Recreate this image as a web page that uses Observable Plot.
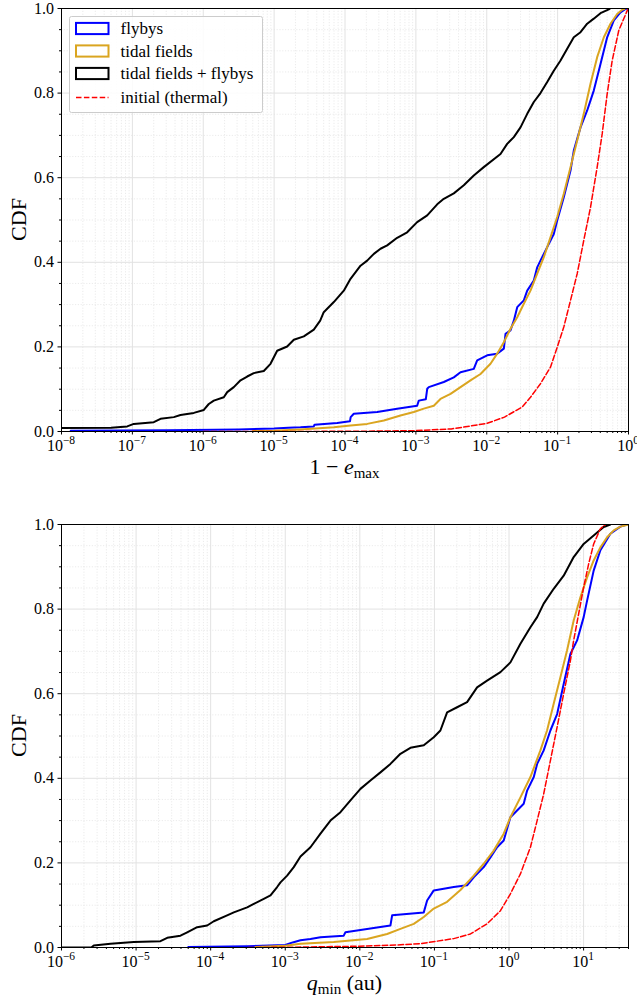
<!DOCTYPE html>
<html>
<head>
<meta charset="utf-8">
<script src="https://cdn.jsdelivr.net/npm/d3@7"></script>
<script src="https://cdn.jsdelivr.net/npm/@observablehq/plot@0.6"></script>
<style>
  body { margin: 0; background: #fff; }
  #chart svg { display: block; }
</style>
</head>
<body>
<div id="chart"></div>
<script>
// ---------------- DATA ----------------
// Each pair: [log10(x), CDF]
const seriesNames = ["flybys", "tidal fields", "tidal fields + flybys", "initial (thermal)"];
const seriesColors = ["#0000ff", "#daa520", "#000000", "#ff0000"];

// Top panel: x = 1 - e_max
const topFlybys = [
  [-7.87, 0.002], [-6.5, 0.003], [-5.5, 0.005], [-5.0, 0.007], [-4.8, 0.009], [-4.628, 0.010],
  [-4.44, 0.012], [-4.43, 0.016], [-4.11, 0.020], [-3.93, 0.024], [-3.92, 0.034], [-3.876, 0.042],
  [-3.546, 0.046], [-3.264, 0.054], [-2.982, 0.061], [-2.959, 0.073], [-2.86, 0.076], [-2.840, 0.101],
  [-2.818, 0.105], [-2.606, 0.117], [-2.465, 0.128], [-2.370, 0.140], [-2.183, 0.148], [-2.135, 0.168],
  [-1.994, 0.180], [-1.853, 0.184], [-1.759, 0.196], [-1.735, 0.231], [-1.665, 0.239], [-1.618, 0.262],
  [-1.570, 0.294], [-1.477, 0.310], [-1.429, 0.333], [-1.336, 0.357], [-1.288, 0.388], [-1.242, 0.404],
  [-1.147, 0.436], [-1.054, 0.467], [-1.006, 0.499], [-0.913, 0.554], [-0.818, 0.617], [-0.772, 0.664],
  [-0.677, 0.719], [-0.583, 0.759], [-0.490, 0.806], [-0.395, 0.869], [-0.301, 0.932], [-0.207, 0.972],
  [-0.113, 0.991], [-0.042, 0.999], [0, 1.0]
];
const topTidal = [
  [-5.3, 0.001], [-5.0, 0.002], [-4.628, 0.005], [-4.158, 0.010], [-3.922, 0.014], [-3.687, 0.018],
  [-3.452, 0.026], [-3.217, 0.038], [-3.029, 0.046], [-2.888, 0.054], [-2.747, 0.061], [-2.653, 0.077],
  [-2.511, 0.089], [-2.370, 0.105], [-2.229, 0.121], [-2.088, 0.136], [-1.947, 0.160], [-1.853, 0.184],
  [-1.759, 0.211], [-1.665, 0.243], [-1.570, 0.270], [-1.477, 0.302], [-1.383, 0.333], [-1.288, 0.373],
  [-1.195, 0.412], [-1.101, 0.459], [-1.006, 0.507], [-0.913, 0.562], [-0.818, 0.625], [-0.724, 0.688],
  [-0.631, 0.751], [-0.536, 0.822], [-0.442, 0.885], [-0.348, 0.932], [-0.254, 0.964], [-0.160, 0.987],
  [-0.089, 0.997], [-0.05, 1.0]
];
const topBoth = [
  [-8.0, 0.008], [-7.3, 0.009], [-7.073, 0.012], [-6.98, 0.018], [-6.698, 0.022], [-6.603, 0.030],
  [-6.415, 0.034], [-6.321, 0.039], [-6.133, 0.044], [-5.992, 0.051], [-5.922, 0.065], [-5.851, 0.073],
  [-5.710, 0.081], [-5.662, 0.093], [-5.569, 0.105], [-5.474, 0.121], [-5.380, 0.130], [-5.287, 0.138],
  [-5.146, 0.143], [-5.051, 0.160], [-4.957, 0.191], [-4.816, 0.201], [-4.722, 0.217], [-4.581, 0.225],
  [-4.44, 0.241], [-4.35, 0.262], [-4.30, 0.282], [-4.158, 0.306], [-4.017, 0.333], [-3.922, 0.361],
  [-3.781, 0.392], [-3.687, 0.404], [-3.593, 0.420], [-3.499, 0.432], [-3.405, 0.440], [-3.264, 0.458],
  [-3.123, 0.471], [-2.982, 0.495], [-2.840, 0.511], [-2.699, 0.537], [-2.606, 0.550], [-2.465, 0.563],
  [-2.324, 0.582], [-2.183, 0.605], [-2.042, 0.625], [-1.806, 0.656], [-1.712, 0.680], [-1.618, 0.696],
  [-1.524, 0.719], [-1.429, 0.751], [-1.336, 0.779], [-1.242, 0.800], [-1.147, 0.826], [-1.054, 0.853],
  [-0.959, 0.877], [-0.865, 0.905], [-0.772, 0.932], [-0.677, 0.944], [-0.583, 0.964], [-0.490, 0.976],
  [-0.395, 0.989], [-0.278, 0.998], [-0.26, 1.0]
];
const topInitial = [
  [-6, 0], [-5, 0.0001], [-4, 0.0004], [-3.5, 0.001], [-3, 0.002], [-2.5, 0.006], [-2, 0.019],
  [-1.75, 0.034], [-1.5, 0.058], [-1.383, 0.081], [-1.242, 0.113], [-1.101, 0.152], [-1.006, 0.199],
  [-0.913, 0.247], [-0.818, 0.310], [-0.724, 0.373], [-0.631, 0.452], [-0.536, 0.530], [-0.442, 0.625],
  [-0.371, 0.704], [-0.301, 0.798], [-0.230, 0.877], [-0.137, 0.948], [-0.018, 0.995], [0, 1.0]
];

// Bottom panel: x = q_min (au)
const botFlybys = [
  [-4.3, 0.001], [-3.5, 0.003], [-3.0, 0.006], [-2.9, 0.012], [-2.796, 0.017], [-2.662, 0.020],
  [-2.528, 0.024], [-2.216, 0.028], [-2.193, 0.036], [-1.903, 0.044], [-1.590, 0.052], [-1.567, 0.076],
  [-1.143, 0.083], [-1.098, 0.111], [-1.009, 0.135], [-0.741, 0.143], [-0.562, 0.147], [-0.473, 0.166],
  [-0.339, 0.190], [-0.249, 0.213], [-0.160, 0.237], [-0.071, 0.253], [0.019, 0.308], [0.108, 0.324],
  [0.197, 0.340], [0.243, 0.371], [0.332, 0.403], [0.377, 0.434], [0.465, 0.466], [0.555, 0.513],
  [0.645, 0.552], [0.733, 0.623], [0.823, 0.694], [0.913, 0.726], [1.001, 0.781], [1.047, 0.820],
  [1.135, 0.891], [1.225, 0.939], [1.359, 0.978], [1.493, 0.995], [1.583, 1.0]
];
const botTidal = [
  [-3.4, 0.001], [-3.0, 0.004], [-2.796, 0.009], [-2.350, 0.013], [-1.903, 0.020], [-1.634, 0.032],
  [-1.456, 0.044], [-1.277, 0.056], [-1.143, 0.072], [-1.009, 0.092], [-0.830, 0.108], [-0.651, 0.136],
  [-0.473, 0.170], [-0.339, 0.198], [-0.205, 0.229], [-0.071, 0.269], [0.019, 0.308], [0.153, 0.355],
  [0.287, 0.403], [0.421, 0.466], [0.510, 0.513], [0.599, 0.576], [0.689, 0.639], [0.778, 0.702],
  [0.867, 0.773], [0.957, 0.828], [1.047, 0.875], [1.135, 0.915], [1.225, 0.946], [1.315, 0.970],
  [1.404, 0.986], [1.493, 0.995], [1.605, 1.0]
];
const botBoth = [
  [-6, 0], [-5.6, 0], [-5.567, 0.005], [-5.343, 0.009], [-5.030, 0.013], [-4.673, 0.015], [-4.583, 0.023],
  [-4.405, 0.028], [-4.315, 0.036], [-4.181, 0.048], [-4.047, 0.052], [-3.958, 0.062], [-3.779, 0.076],
  [-3.690, 0.083], [-3.511, 0.095], [-3.422, 0.103], [-3.288, 0.115], [-3.198, 0.123], [-3.109, 0.143],
  [-3.064, 0.154], [-2.975, 0.170], [-2.886, 0.190], [-2.796, 0.215], [-2.662, 0.237], [-2.528, 0.269],
  [-2.394, 0.300], [-2.260, 0.320], [-2.126, 0.348], [-1.992, 0.375], [-1.858, 0.395], [-1.724, 0.414],
  [-1.590, 0.434], [-1.456, 0.458], [-1.322, 0.472], [-1.143, 0.478], [-1.009, 0.497], [-0.920, 0.513],
  [-0.830, 0.556], [-0.696, 0.568], [-0.562, 0.580], [-0.428, 0.615], [-0.294, 0.631], [-0.115, 0.651],
  [0.019, 0.674], [0.153, 0.718], [0.287, 0.757], [0.377, 0.781], [0.465, 0.813], [0.599, 0.848],
  [0.733, 0.879], [0.867, 0.923], [1.001, 0.954], [1.135, 0.974], [1.269, 0.994], [1.359, 1.0]
];
const botInitial = [
  [-3.5, 0], [-3, 0.0005], [-2, 0.003], [-1.5, 0.006], [-1.188, 0.009], [-0.741, 0.021], [-0.517, 0.032],
  [-0.294, 0.056], [-0.115, 0.087], [0.019, 0.127], [0.153, 0.174], [0.287, 0.237], [0.377, 0.300],
  [0.465, 0.363], [0.555, 0.442], [0.645, 0.521], [0.733, 0.600], [0.823, 0.678], [0.867, 0.726],
  [0.934, 0.789], [1.001, 0.852], [1.068, 0.907], [1.135, 0.954], [1.225, 0.990], [1.292, 1.0]
];

// Axes
const topXDomain = [1e-8, 1];
const topTickValues = [1e-8, 1e-7, 1e-6, 1e-5, 1e-4, 1e-3, 1e-2, 1e-1, 1];
const topTickExps = ["\u22128", "\u22127", "\u22126", "\u22125", "\u22124", "\u22123", "\u22122", "\u22121", "0"];
const botXDomain = [1e-6, 40];
const botTickValues = [1e-6, 1e-5, 1e-4, 1e-3, 1e-2, 1e-1, 1, 10];
const botTickExps = ["\u22126", "\u22125", "\u22124", "\u22123", "\u22122", "\u22121", "0", "1"];
const yTickValues = [0, 0.2, 0.4, 0.6, 0.8, 1.0];
const yMinorValues = [0.05, 0.1, 0.15, 0.25, 0.3, 0.35, 0.45, 0.5, 0.55, 0.65, 0.7, 0.75, 0.85, 0.9, 0.95];

// ---------------- RENDERING ----------------
const FONT = "'Liberation Serif', 'Times New Roman', serif";

function minorLogTicks(domain) {
  const out = [];
  const k0 = Math.floor(Math.log10(domain[0]));
  const k1 = Math.ceil(Math.log10(domain[1]));
  for (let k = k0; k <= k1; k++)
    for (let m = 2; m <= 9; m++) {
      const v = m * Math.pow(10, k);
      if (v > domain[0] && v <= domain[1] * 1.0001) out.push(v);
    }
  return out;
}

const toRows = arr => arr.map(([lx, c]) => ({x: Math.pow(10, lx), cdf: c}));

function makePanel(cfg) {
  const minorX = minorLogTicks(cfg.domain);
  const [flyb, tidal, both, init] = cfg.series;
  const svg = Plot.plot({
    width: 637,
    height: cfg.height,
    marginLeft: 61,
    marginRight: 9,
    marginTop: cfg.marginTop,
    marginBottom: cfg.marginBottom,
    style: {background: "white", fontFamily: FONT, fontSize: "16px", color: "black", overflow: "visible"},
    x: {type: "log", domain: cfg.domain, label: null},
    y: {domain: [0, 1], label: null},
    marks: [
      Plot.ruleX(minorX, {stroke: "#e6e6e6", strokeWidth: 0.8, strokeDasharray: "1.2,1.6"}),
      Plot.ruleY(yMinorValues, {stroke: "#e6e6e6", strokeWidth: 0.8, strokeDasharray: "1.2,1.6"}),
      Plot.ruleX(cfg.tickValues, {stroke: "#e2e2e2", strokeWidth: 1}),
      Plot.ruleY(yTickValues, {stroke: "#e2e2e2", strokeWidth: 1}),
      Plot.line(toRows(flyb), {x: "x", y: "cdf", stroke: seriesColors[0], strokeWidth: 2, clip: true}),
      Plot.line(toRows(tidal), {x: "x", y: "cdf", stroke: seriesColors[1], strokeWidth: 2, clip: true}),
      Plot.line(toRows(both), {x: "x", y: "cdf", stroke: seriesColors[2], strokeWidth: 2, clip: true}),
      Plot.line(toRows(init), {x: "x", y: "cdf", stroke: seriesColors[3], strokeWidth: 1.5, strokeDasharray: "5.5,2.4", clip: true}),
      Plot.frame({stroke: "black", strokeWidth: 1}),
      Plot.axisY(yTickValues, {tickSize: 3.5, tickPadding: 4, tickFormat: d => d.toFixed(1), fontSize: 16}),
      Plot.axisY(yMinorValues, {tickSize: 2, tickFormat: () => ""}),
      Plot.axisX(cfg.tickValues, {tickSize: 3.5, tickFormat: () => ""}),
      Plot.axisX(minorX, {tickSize: 2, tickFormat: () => ""})
    ]
  });

  const sx = svg.scale("x");
  const root = d3.select(svg);

  // x tick labels 10^k with real superscripts
  const gl = root.append("g")
    .attr("font-family", FONT).attr("font-size", 16).attr("fill", "black").attr("text-anchor", "middle");
  cfg.tickValues.forEach((v, i) => {
    const t = gl.append("text").attr("x", sx.apply(v)).attr("y", cfg.tickBaseline);
    t.append("tspan").text("10");
    t.append("tspan").attr("dy", -7).attr("font-size", 11.5).text(cfg.tickExps[i]);
  });

  // y axis label
  root.append("text")
    .attr("transform", `translate(18,${cfg.cdfCenterY}) rotate(-90)`)
    .attr("text-anchor", "middle").attr("dominant-baseline", "central")
    .attr("font-family", FONT).attr("font-size", 22).attr("fill", "black")
    .text("CDF");

  // x axis label
  cfg.xLabel(root.append("text")
    .attr("x", 344.5).attr("y", cfg.labelBaseline)
    .attr("text-anchor", "middle").attr("font-family", FONT).attr("font-size", 22).attr("fill", "black"));

  return svg;
}

const topSvg = makePanel({
  series: [topFlybys, topTidal, topBoth, topInitial],
  domain: topXDomain, tickValues: topTickValues, tickExps: topTickExps,
  height: 500, marginTop: 8, marginBottom: 69,
  tickBaseline: 451, labelBaseline: 474, cdfCenterY: 219.5,
  xLabel: t => {
    t.append("tspan").text("1 \u2212 ");
    t.append("tspan").attr("font-style", "italic").text("e");
    t.append("tspan").attr("font-size", 15).attr("dy", 4).text("max");
  }
});

const bottomSvg = makePanel({
  series: [botFlybys, botTidal, botBoth, botInitial],
  domain: botXDomain, tickValues: botTickValues, tickExps: botTickExps,
  height: 500, marginTop: 24, marginBottom: 53,
  tickBaseline: 467, labelBaseline: 490, cdfCenterY: 235.5,
  xLabel: t => {
    t.append("tspan").attr("font-style", "italic").text("q");
    t.append("tspan").attr("font-size", 15).attr("dy", 4).text("min");
    t.append("tspan").attr("dy", -4).text(" (au)");
  }
});

// Legend inside the top panel
{
  const lg = d3.select(topSvg).append("g")
    .attr("font-family", FONT).attr("font-size", 17).attr("text-anchor", "start");
  lg.append("rect").attr("x", 69.5).attr("y", 16.5).attr("width", 193).attr("height", 96)
    .attr("rx", 2).attr("fill", "white").attr("fill-opacity", 0.85).attr("stroke", "#cccccc").attr("stroke-width", 1);
  const rows = [28.5, 51, 73.5, 97.5];
  seriesNames.forEach((name, i) => {
    const cy = rows[i];
    if (i < 3) {
      lg.append("rect").attr("x", 76).attr("y", cy - 5.6).attr("width", 32.5).attr("height", 11.2)
        .attr("fill", "none").attr("stroke", seriesColors[i]).attr("stroke-width", 2);
    } else {
      lg.append("line").attr("x1", 76).attr("x2", 108.5).attr("y1", cy).attr("y2", cy)
        .attr("stroke", seriesColors[i]).attr("stroke-width", 1.5).attr("stroke-dasharray", "5.5,2.4");
    }
    lg.append("text").attr("x", 120.5).attr("y", cy + 5.5).attr("text-anchor", "start").attr("fill", "black").text(name);
  });
}

document.getElementById("chart").append(topSvg, bottomSvg);
</script>
</body>
</html>
